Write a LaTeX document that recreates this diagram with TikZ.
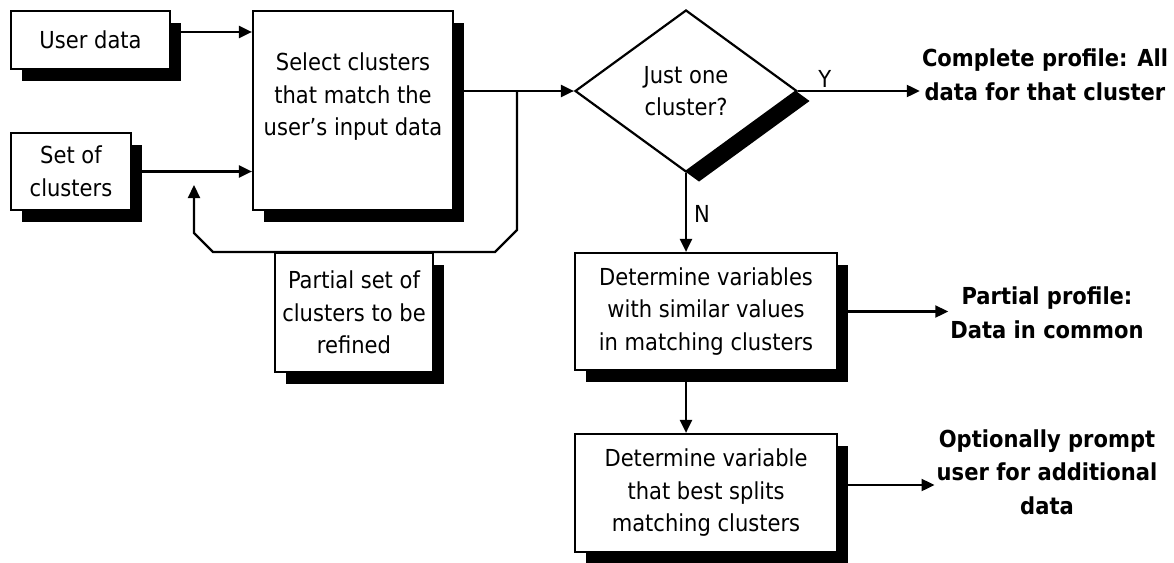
\documentclass[tikz,border=0pt]{standalone}
\usepackage{fontspec}
\setmainfont{DejaVu Sans Condensed}
\usetikzlibrary{shapes.geometric,shadows,arrows.meta,calc}
\begin{document}
\begin{tikzpicture}[x=1pt,y=-1pt,
  every node/.style={font=\fontsize{23.4}{32.5}\selectfont},
  proc/.style={draw, fill=white, line width=2.2pt, inner sep=0pt, align=center,
    drop shadow={shadow xshift=11pt, shadow yshift=-12pt, fill=black, opacity=1}},
  dec/.style={diamond, draw, fill=white, line width=2.2pt, inner sep=0pt, aspect=1.37,
    align=center, minimum width=222pt, minimum height=162pt,
    drop shadow={shadow xshift=13pt, shadow yshift=-10pt, fill=black, opacity=1}},
  result/.style={align=center, inner sep=2pt, font=\fontsize{23.4}{33.5}\selectfont\bfseries},
  arr/.style={line width=2.2pt, -{Triangle[length=13pt,width=12pt]}},
  lbl/.style={inner sep=2pt}
]
\useasboundingbox (0,0) rectangle (1174,562);

% inputs and the selection step
\node[proc, minimum width=159pt, minimum height=58pt] (user) at (90.5,40) {User data};
\node[proc, minimum width=120pt, minimum height=77pt] (set) at (71,171.5) {Set of\\clusters};
\node[proc, minimum width=200pt, minimum height=199pt] (sel) at (353,110.5)
  {Select clusters\\that match the\\user’s input data\\\mbox{}};
\node[proc, minimum width=158pt, minimum height=119pt] (part) at (354,312.5)
  {Partial set of\\clusters to be\\refined};

% decision and refinement steps
\node[dec] (dia) at (686,91) {Just one\\cluster?};
\node[proc, minimum width=262pt, minimum height=117pt] (det1) at (706,311.5)
  {Determine variables\\with similar values\\in matching clusters};
\node[proc, minimum width=262pt, minimum height=118pt] (det2) at (706,493)
  {Determine variable\\that best splits\\matching clusters};

% outcomes
\node[result] (cp) at (1045,75) {Complete profile: All\\data for that cluster};
\node[result] (pp) at (1047,313) {Partial profile:\\Data in common};
\node[result] (op) at (1047,472) {Optionally prompt\\user for additional\\data};

% connectors
\coordinate (u1) at ($(user.east)+(0,-8)$);
\draw[arr] (u1) -- (u1 -| sel.west);
\draw[arr] (set.east) -- (set.east -| sel.west);
\draw[arr] (sel.east |- dia.west) -- (dia.west);

% feedback loop back to the cluster input
\coordinate (br) at (517,91);
\coordinate (fb) at (194,185);
\draw[arr, line join=miter] (br) -- (517,230) -- (495,252) -- (213,252) -- (194,233) -- (fb);

\draw[arr] (dia.east) -- node[lbl, pos=0.22, above] {Y} (dia.east -| cp.west);
\draw[arr] (dia.south) -- node[lbl, pos=0.52, right=5pt] {N} (dia.south |- det1.north);
\draw[arr] (dia.south |- det1.south) -- (dia.south |- det2.north);
\draw[arr] (det1.east) -- (det1.east -| pp.west);
\coordinate (d2) at ($(det2.east)+(0,-8)$);
\draw[arr] (d2) -- (d2 -| op.west);
\end{tikzpicture}
\end{document}
